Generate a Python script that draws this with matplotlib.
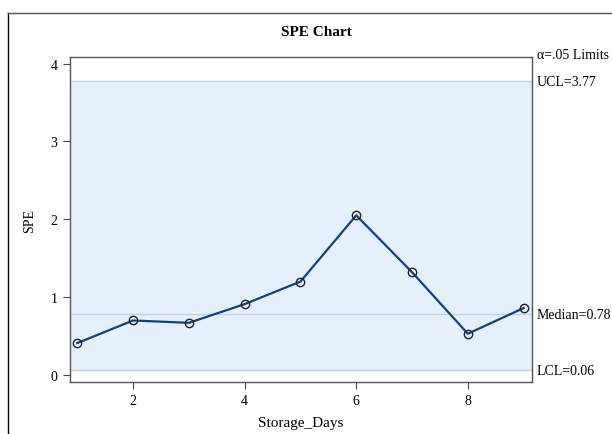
import matplotlib
matplotlib.use("Agg")
import matplotlib.pyplot as plt
from matplotlib.lines import Line2D

dias = [1, 2, 3, 4, 5, 6, 7, 8, 9]
spe = [0.41, 0.70, 0.67, 0.91, 1.20, 2.05, 1.32, 0.53, 0.86]
ucl = 3.77
mediana = 0.78
lcl = 0.06

plt.rcParams['font.family'] = ['Liberation Serif', 'DejaVu Serif']

fig = plt.figure(figsize=(6.12, 4.35), dpi=100)
ax = fig.add_axes([70/612, 52/435, 462/612, 324.7/435])

# faixa entre os limites
ax.axhspan(lcl, ucl, color='#e5f0fc', zorder=0)
for nivel in [lcl, mediana, ucl]:
    ax.axhline(nivel, color='#c3d2e4', lw=1, zorder=1)

ax.plot(dias, spe, color='#13407f', lw=1.6, marker='o', ms=6,
        mfc='none', mec='#222222', mew=1, zorder=3)

ax.set_xlim(0.87, 9.15)
ax.set_ylim(-0.09, 4.08)
ax.set_xticks([2, 4, 6, 8])
ax.set_yticks([0, 1, 2, 3, 4])
ax.tick_params(labelsize=10, length=5, color='#444444', pad=4)
for s in ax.spines.values():
    s.set_color('#555555')
    s.set_linewidth(1)

ax.set_xlabel('Storage_Days', fontsize=11, labelpad=6)
ax.set_ylabel('SPE', fontsize=10, labelpad=10)

fig.text(316/612, 1 - 32/435, 'SPE Chart', ha='center', va='center',
         fontsize=11, fontweight='bold')

# rotulos dos limites a direita
tr = ax.get_yaxis_transform()
ax.text(1.01, 4.12, 'α=.05 Limits', transform=tr, fontsize=10, va='center', clip_on=False)
ax.text(1.01, ucl, f'UCL={ucl:.2f}', transform=tr, fontsize=10, va='center', clip_on=False)
ax.text(1.01, mediana, f'Median={mediana:.2f}', transform=tr, fontsize=10, va='center', clip_on=False)
ax.text(1.01, lcl, f'LCL={lcl:.2f}', transform=tr, fontsize=10, va='center', clip_on=False)

# moldura externa
fig.add_artist(Line2D([8/612, 8/612], [0, 1 - 14/435], color='black', lw=1))
fig.add_artist(Line2D([8/612, 1], [1 - 14/435, 1 - 14/435], color='#555555', lw=1))

fig.savefig('out.png', dpi=100)
